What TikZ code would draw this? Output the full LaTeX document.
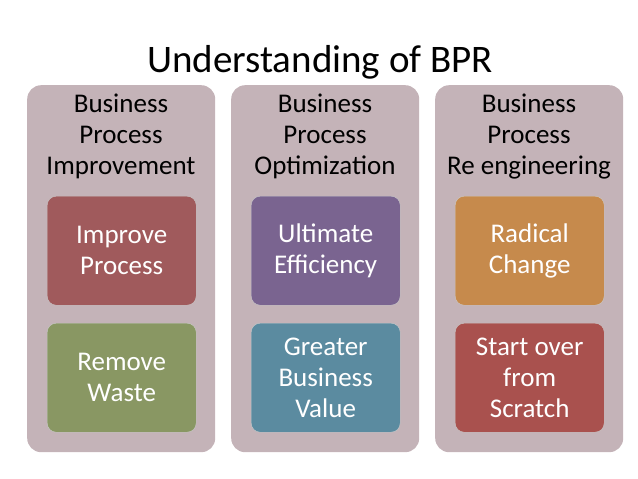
\documentclass[tikz,border=0pt]{standalone}
\usepackage{fontspec}
\setmainfont{Carlito}
\definecolor{colbg}{HTML}{C4B3B8}
\definecolor{boxred}{HTML}{A05A5C}
\definecolor{boxgreen}{HTML}{899763}
\definecolor{boxpurple}{HTML}{7A6490}
\definecolor{boxteal}{HTML}{5B8BA0}
\definecolor{boxorange}{HTML}{C68A4C}
\definecolor{boxbrick}{HTML}{A9514E}
\begin{document}
\begin{tikzpicture}
            [x=1pt, y=-1pt,
            column/.style={fill=colbg, rounded corners=14pt, minimum width=188pt, minimum height=367pt, anchor=north west},
            head/.style={align=center, font=\fontsize{27}{31}\selectfont, anchor=north},
            inbox/.style={rounded corners=9pt, minimum width=149pt, minimum height=109pt, anchor=north west,
            text=white, align=center, font=\fontsize{27}{31}\selectfont, draw=black!20}]
            \useasboundingbox (0,0) rectangle (638,479);
            \node [font=\fontsize{39}{44}\selectfont] (title) at (320,62) {Understanding of BPR};
            % columns
            \node [column] (colA) at (27,85) {};
            \node [column] (colB) at (231,85) {};
            \node [column] (colC) at (435,85) {};
            \node [head] (headA) at (121,90) {Business\\Process\\Improvement};
            \node [head] (headB) at (325,90) {Business\\Process\\Optimization};
            \node [head] (headC) at (529,90) {Business\\Process\\Re engineering};
            % inner boxes
            \node [inbox, fill=boxred] (improve) at (47,196) {Improve\\Process};
            \node [inbox, fill=boxgreen] (waste) at (47,323) {Remove\\Waste};
            \node [inbox, fill=boxpurple] (ultimate) at (251,196) {Ultimate\\Efficiency};
            \node [inbox, fill=boxteal] (value) at (251,323) {Greater\\Business\\Value};
            \node [inbox, fill=boxorange] (radical) at (455,196) {Radical\\Change};
            \node [inbox, fill=boxbrick] (scratch) at (455,323) {Start over\\from\\Scratch};
            \end{tikzpicture}
\end{document}
